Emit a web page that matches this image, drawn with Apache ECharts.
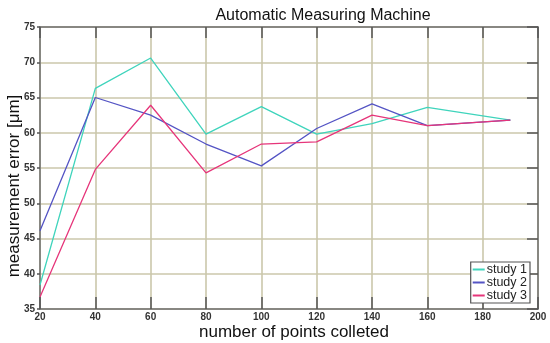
<!DOCTYPE html>
<html><head><meta charset="utf-8">
<script src="https://cdn.jsdelivr.net/npm/echarts@6/dist/echarts.min.js"></script>
<style>html,body{margin:0;padding:0;background:#fff}#c{width:550px;height:343px}</style>
</head><body><div id="c"></div>
<script>
var xValues = [20, 40, 60, 80, 100, 120, 140, 160, 190];
var study1 = [38.4, 66.3, 70.6, 59.8, 63.7, 59.8, 61.3, 63.6, 61.8];
var study2 = [46.1, 65.0, 62.5, 58.4, 55.3, 60.6, 64.1, 61.0, 61.8];
var study3 = [36.7, 54.8, 63.9, 54.3, 58.4, 58.7, 62.5, 61.0, 61.8];
var seriesNames = ['study 1', 'study 2', 'study 3'];
var colors = ['#3fd4bc', '#5454c4', '#e6357a'];

function pairs(v){ return xValues.map(function(x,i){ return [x, v[i]]; }); }
var chart = echarts.init(document.getElementById('c'), null, {renderer:'canvas'});
var gridColor = '#cbc7ab';
var frame = '#6e6e6e';
chart.setOption({
  animation: false,
  title: {text: 'Automatic Measuring Machine', left: 318, top: 3, textAlign: 'center',
    textStyle: {fontFamily: 'Liberation Sans, Arial', fontSize: 16, fontWeight: 'normal', color: '#111'}},
  grid: {left: 40, right: 12, top: 27, bottom: 34, containLabel: false, outerBoundsMode: 'none'},
  legend: {
    data: seriesNames, orient: 'vertical', right: 20, bottom: 40,
    backgroundColor: '#fff', borderColor: '#555', borderWidth: 1.2, borderRadius: 0,
    padding: [1, 3, 1, 2], itemGap: 0, itemWidth: 12, itemHeight: 2, icon: 'rect',
    textStyle: {fontFamily: 'Liberation Sans, Arial', fontSize: 12.5, color: '#222', lineHeight: 11, padding: [0,0,0,-3]}
  },
  xAxis: [{
    type: 'value', min: 20, max: 200, interval: 20,
    name: 'number of points colleted', nameLocation: 'middle', nameGap: 15, nameMoveOverlap: false,
    nameTextStyle: {fontFamily: 'Liberation Sans, Arial', fontSize: 17, color: '#111', padding: [0,0,0,10]},
    axisLine: {show: true, lineStyle: {color: frame, width: 1.5}},
    axisTick: {show: true, inside: true, length: 12, lineStyle: {color: '#555', width: 1.5}},
    axisLabel: {fontFamily: 'Liberation Sans, Arial', fontSize: 10, fontWeight: 'bold', color: '#333', margin: 3},
    splitLine: {show: true, lineStyle: {color: gridColor, width: 1.6}}
  }, {
    type: 'value', min: 20, max: 200, interval: 20, position: 'top',
    axisLine: {show: true, lineStyle: {color: frame, width: 1.5}},
    axisTick: {show: true, inside: true, length: 11, lineStyle: {color: '#555', width: 1.5}},
    axisLabel: {show: false}, splitLine: {show: false}
  }],
  yAxis: [{
    type: 'value', min: 35, max: 75, interval: 5,
    name: 'measurement error [μm]', nameLocation: 'middle', nameGap: 17, nameMoveOverlap: false,
    nameTextStyle: {fontFamily: 'Liberation Sans, Arial', fontSize: 17, color: '#111', padding: [0, 36, 0, 0]},
    axisLine: {show: true, lineStyle: {color: frame, width: 1.5}},
    axisTick: {show: true, inside: false, length: 3, lineStyle: {color: '#555', width: 1.5}},
    axisLabel: {fontFamily: 'Liberation Sans, Arial', fontSize: 10, fontWeight: 'bold', color: '#333', margin: 5},
    splitLine: {show: true, lineStyle: {color: gridColor, width: 1.6}}
  }, {
    type: 'value', min: 35, max: 75, interval: 5, position: 'right',
    axisLine: {show: true, lineStyle: {color: frame, width: 1.5}},
    axisTick: {show: true, inside: true, length: 11, lineStyle: {color: '#555', width: 1.5}},
    axisLabel: {show: false}, splitLine: {show: false}
  }],
  series: [study1, study2, study3].map(function(v, i){
    return {name: seriesNames[i], type: 'line', data: pairs(v), showSymbol: false,
      color: colors[i], lineStyle: {width: 1.3, color: colors[i]}};
  })
});
</script></body></html>
